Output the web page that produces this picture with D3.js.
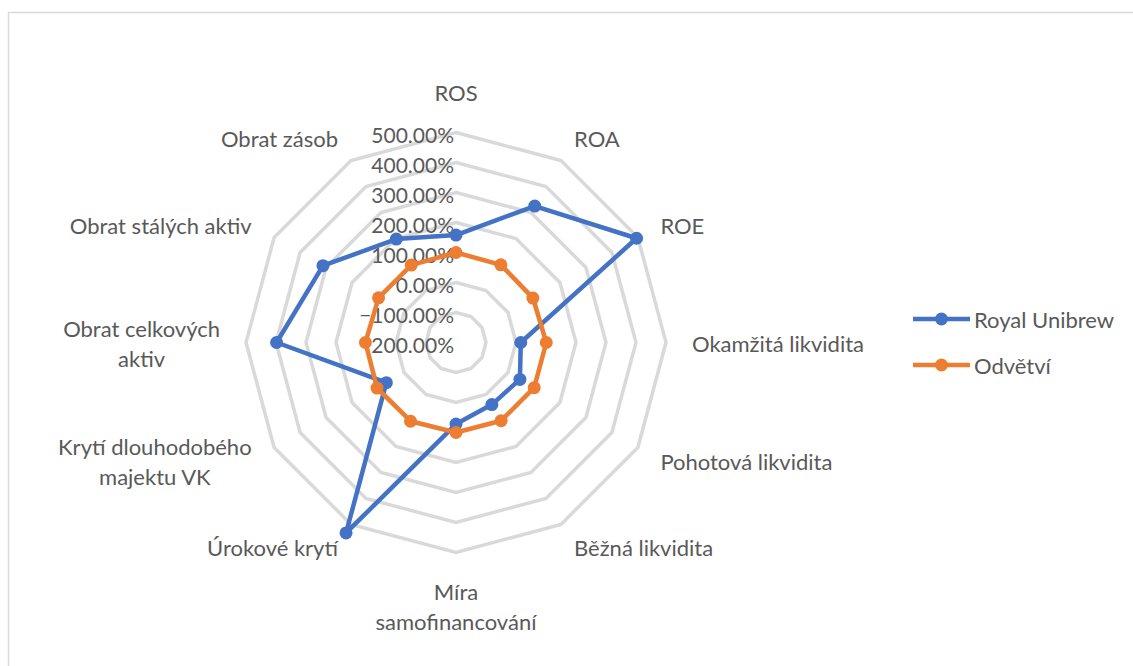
<!DOCTYPE html>
<html>
<head>
<meta charset="utf-8">
<script src="https://cdn.jsdelivr.net/npm/d3@7"></script>
<style>
  body { margin: 0; background: #fff; }
  svg text { font-family: Lato, "Noto Sans", sans-serif; fill: #595959; }
</style>
</head>
<body>
<svg width="1133" height="666"></svg>
<script>
// kategorie (po směru hodin od vrcholu)
const categories = [
  ['ROS'],
  ['ROA'],
  ['ROE'],
  ['Okamžitá likvidita'],
  ['Pohotová likvidita'],
  ['Běžná likvidita'],
  ['Míra', 'samofinancování'],
  ['Úrokové krytí'],
  ['Krytí dlouhodobého', 'majektu VK'],
  ['Obrat celkových', 'aktiv'],
  ['Obrat stálých aktiv'],
  ['Obrat zásob']
];
// hodnoty v %
const royalUnibrew = [158, 325, 495, 16, 46, 39, 72, 533, 68, 398, 312, 198];
const odvetvi = [100, 99, 96, 101, 101, 101, 100, 103, 104, 102, 98, 98];
const seriesNames = ['Royal Unibrew', 'Odvětví'];
const seriesColors = ['#4472c4', '#ed7d31'];
const tickValues = [-200, -100, 0, 100, 200, 300, 400, 500];

const svg = d3.select('svg');
const cx = 456;
const cy = 342.5;
const outerR = 210;
const step = 2 * Math.PI / categories.length;

const r = d3.scaleLinear().domain([-200, 500]).range([0, outerR]);
const fmt = d3.format('.2f');

// rámeček grafu
svg.append('rect')
  .attr('x', 8.5).attr('y', 12.5)
  .attr('width', 1300).attr('height', 800)
  .attr('fill', 'none')
  .attr('stroke', '#d9d9d9')
  .attr('stroke-width', 1.5);

const g = svg.append('g').attr('transform', `translate(${cx},${cy})`);

const radial = d3.lineRadial()
  .angle((d, i) => i * step)
  .radius(d => r(d))
  .curve(d3.curveLinearClosed);

// mřížka
g.selectAll('.ring')
  .data(tickValues.slice(1))
  .join('path')
  .attr('d', v => radial(categories.map(() => v)))
  .attr('fill', 'none')
  .attr('stroke', '#d9d9d9')
  .attr('stroke-width', 3.5);

// popisky osy
g.selectAll('.tick')
  .data(tickValues)
  .join('text')
  .attr('x', -2)
  .attr('y', v => -r(v) + 3)
  .attr('dy', '0.36em')
  .attr('text-anchor', 'end')
  .style('font-size', '21px')
  .text(v => fmt(v) + '%');

// popisky kategorií
const labelR = 236;
const lineH = 30;
categories.forEach((lines, i) => {
  const a = i * step;
  const ax = labelR * Math.sin(a);
  const ay = -labelR * Math.cos(a);
  const t = g.append('text').style('font-size', '22px').attr('text-anchor', 'middle');
  const spans = lines.map(s => t.append('tspan').text(s));
  const maxW = d3.max(spans, s => s.node().getComputedTextLength());
  let x = ax;
  if (Math.abs(Math.sin(a)) > 0.01) x = Math.sin(a) > 0 ? ax + maxW / 2 : ax - maxW / 2;
  const n = lines.length;
  spans.forEach((s, k) => {
    let y;
    if (i === 0) y = ay - 6 - (n - 1 - k) * lineH;
    else if (Math.abs(a - Math.PI) < 0.01) y = ay + 21 + k * lineH;
    else y = ay + 1 + (k - (n - 1) / 2) * lineH + 8;
    s.attr('x', x).attr('y', y);
  });
});

// řady
[royalUnibrew, odvetvi].forEach((data, si) => {
  const col = seriesColors[si];
  g.append('path')
    .attr('d', radial(data))
    .attr('fill', 'none')
    .attr('stroke', col)
    .attr('stroke-width', 4.5)
    .attr('stroke-linejoin', 'round');
  g.selectAll('.pt' + si)
    .data(data)
    .join('circle')
    .attr('cx', (d, i) => r(d) * Math.sin(i * step))
    .attr('cy', (d, i) => -r(d) * Math.cos(i * step))
    .attr('r', 6.5)
    .attr('fill', col);
});

// legenda
const legend = svg.append('g');
seriesNames.forEach((name, i) => {
  const y = 319 + i * 46;
  legend.append('line')
    .attr('x1', 913).attr('x2', 970)
    .attr('y1', y).attr('y2', y)
    .attr('stroke', seriesColors[i])
    .attr('stroke-width', 4.5);
  legend.append('circle')
    .attr('cx', 941.5).attr('cy', y).attr('r', 6.5)
    .attr('fill', seriesColors[i]);
  legend.append('text')
    .attr('x', 974).attr('y', y + 1)
    .attr('dy', '0.36em')
    .style('font-size', '22px')
    .text(name);
});
</script>
</body>
</html>
